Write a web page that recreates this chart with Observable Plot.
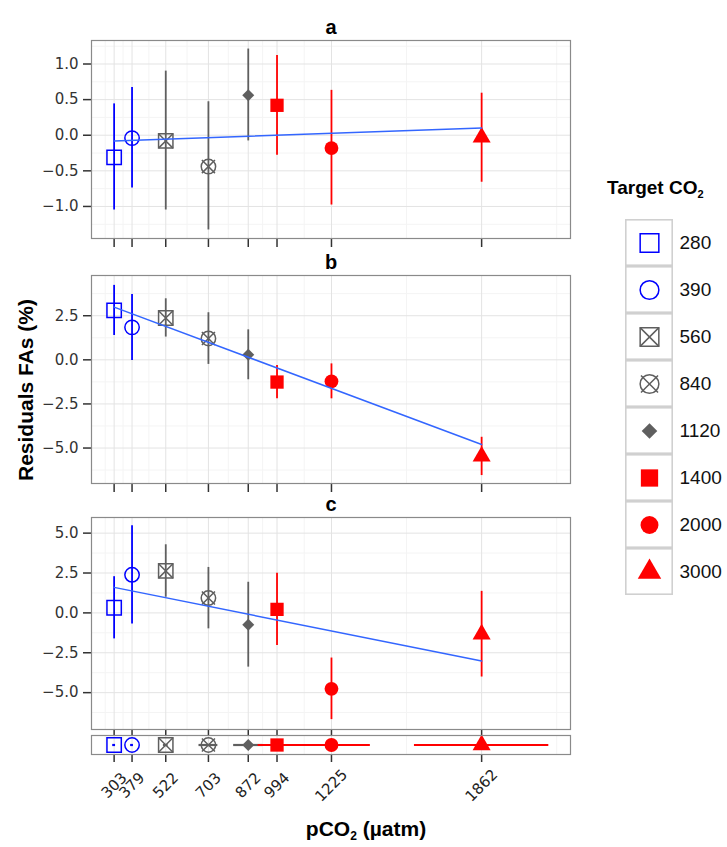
<!DOCTYPE html>
<html><head><meta charset="utf-8">
<script src="https://cdn.jsdelivr.net/npm/d3@7"></script>
<script src="https://cdn.jsdelivr.net/npm/@observablehq/plot@0.6"></script>
<style>
body{margin:0;background:#fff;font-family:"Liberation Sans",Arial,Helvetica,sans-serif;}
#chart{position:relative;width:727px;height:847px;overflow:hidden;}
#chart > *{position:absolute;}
.t{font-weight:bold;color:#000;white-space:nowrap;}
</style></head><body><div id="chart"></div>
<script>
// ---- data ----
const targetCO2 = ["280","390","560","840","1120","1400","2000","3000"];
const pCO2      = [303, 379, 522, 703, 872, 994, 1225, 1862];
const pCO2Err   = [6, 6, 10, 40, 62, 80, 165, 285];

const residA = [-0.31, -0.04, -0.08, -0.44, 0.56, 0.42, -0.18, -0.03];
const lowA   = [-1.05, -0.74, -1.05, -1.33, -0.08, -0.28, -0.98, -0.66];
const highA  = [0.44, 0.67, 0.90, 0.47, 1.21, 1.12, 0.63, 0.59];
const fitA   = [-0.08, 0.10];

const residB = [2.80, 1.84, 2.37, 1.21, 0.29, -1.26, -1.22, -5.47];
const lowB   = [1.38, -0.04, 1.29, -0.26, -1.13, -2.21, -2.21, -6.56];
const highB  = [4.22, 3.70, 3.46, 2.67, 1.70, -0.32, -0.23, -4.39];
const fitB   = [2.99, -4.80];

const residC = [0.32, 2.39, 2.63, 0.93, -0.74, 0.22, -4.76, -1.34];
const lowC   = [-1.63, -0.69, 0.98, -1.00, -3.40, -2.04, -6.69, -4.02];
const highC  = [2.27, 5.46, 4.27, 2.85, 1.92, 2.48, -2.83, 1.35];
const fitC   = [1.60, -3.02];

const fitX   = [303, 1862];
const ticksA = [-1, -0.5, 0, 0.5, 1];
const ticksB = [-5, -2.5, 0, 2.5];
const ticksC = [-5, -2.5, 0, 2.5, 5];

// ---- styling ----
const FONT = '"Liberation Sans", Arial, Helvetica, sans-serif';
const TICKFONT = '"DejaVu Sans", "Liberation Sans", sans-serif';
const palette = ["#0000FF","#0000FF","#5f5f5f","#5f5f5f","#5f5f5f","#FF0000","#FF0000","#FF0000"];
const xDomain = [207, 2239];
const fmt = d3.format(".1f");

const rows = targetCO2.map((t, i) => ({
  target: t, pco2: pCO2[i], err: pCO2Err[i],
  a: residA[i], aLo: lowA[i], aHi: highA[i],
  b: residB[i], bLo: lowB[i], bHi: highB[i],
  c: residC[i], cLo: lowC[i], cHi: highC[i]
}));

function minorBreaks(b) {
  const ext = [b[0] - (b[1] - b[0]), ...b, b[b.length - 1] + (b[b.length - 1] - b[b.length - 2])];
  return ext.slice(1).map((v, i) => (v + ext[i]) / 2);
}
const xMinor = minorBreaks(pCO2).filter(v => v > xDomain[0] && v < xDomain[1]);

// symbol layers (shape per target)
const layers = [
  {keys: ["280","560"], symbol: "square", r: 8.1, filled: false},
  {keys: ["390","840"], symbol: "circle", r: 7.2, filled: false},
  {keys: ["560"], symbol: "times", r: 6.6, filled: false},
  {keys: ["840"], symbol: "times", r: 6.0, filled: false},
  {keys: ["1120"], symbol: "diamond2", r: 5.4, filled: true},
  {keys: ["1400"], symbol: "square", r: 7.5, filled: true},
  {keys: ["2000"], symbol: "circle", r: 6.9, filled: true},
  {keys: ["3000"], symbol: "triangle", r: 6.7, filled: true}
];
function symbolMarks(data, xOpt, yOpt, scale = 1) {
  return layers.map(L => Plot.dot(data.filter(d => L.keys.includes(d.target)), {
    x: xOpt, y: yOpt, symbol: L.symbol, r: L.r * scale,
    fill: L.filled ? "target" : "none",
    stroke: L.filled ? "none" : "target",
    strokeWidth: 1.5
  }));
}

const chart = document.getElementById("chart");
function place(el, left, top) { el.style.left = left + "px"; el.style.top = top + "px"; chart.appendChild(el); }

function panel(key, ticks, domain, fit, title, top, height, mTop, mBottom, xTick) {
  const yMinor = minorBreaks(ticks).filter(v => v > domain[0] && v < domain[1]);
  const p = Plot.plot({
    width: 580, height, marginLeft: 91, marginRight: 10, marginTop: mTop, marginBottom: mBottom,
    style: {fontFamily: FONT, fontSize: "15px", background: "transparent", overflow: "visible"},
    x: {domain: xDomain, axis: null},
    y: {domain, axis: null},
    color: {domain: targetCO2, range: palette},
    marks: [
      Plot.gridX(xMinor, {stroke: "#f4f4f4", strokeOpacity: 1}),
      Plot.gridY(yMinor, {stroke: "#f4f4f4", strokeOpacity: 1}),
      Plot.gridX(pCO2, {stroke: "#e3e3e3", strokeOpacity: 1}),
      Plot.gridY(ticks, {stroke: "#e3e3e3", strokeOpacity: 1}),
      Plot.axisY(ticks, {tickSize: 8, tickPadding: 5, tickFormat: fmt, label: null, color: "#333", strokeWidth: 1.5, fontFamily: TICKFONT, fontSize: 15}),
      Plot.axisX(pCO2, {tickSize: xTick, tickFormat: () => "", label: null, color: "#333", strokeWidth: 1.5}),
      Plot.ruleX(rows, {x: "pco2", y1: key + "Lo", y2: key + "Hi", stroke: "target", strokeWidth: 1.8}),
      ...symbolMarks(rows, "pco2", key),
      Plot.line(fitX.map((x, i) => ({x, y: fit[i]})), {x: "x", y: "y", stroke: "#3366FF", strokeWidth: 1.5}),
      Plot.frame({stroke: "#8a8a8a", strokeWidth: 1.2}),
      Plot.text([title], {frameAnchor: "top", lineAnchor: "bottom", dy: -7, fontWeight: "bold", fontSize: 20, fill: "#000"})
    ]
  });
  place(p, 0, top);
}

panel("a", ticksA, [-1.45, 1.33], fitA, "a", 0, 250, 40, 12, 9);
panel("b", ticksB, [-7.01, 4.78], fitB, "b", 250, 245, 25, 12, 9);
panel("c", ticksC, [-7.31, 5.98], fitC, "c", 495, 240, 22, 6, 6);

// strip with horizontal pCO2 error bars + x axis
const strip = Plot.plot({
  width: 580, height: 113, marginLeft: 91, marginRight: 10, marginTop: 1, marginBottom: 93,
  style: {fontFamily: FONT, fontSize: "15px", background: "transparent", overflow: "visible"},
  x: {domain: xDomain, axis: null},
  y: {domain: [0, 1], axis: null},
  color: {domain: targetCO2, range: palette},
  marks: [
    Plot.gridX(xMinor, {stroke: "#f4f4f4", strokeOpacity: 1}),
    Plot.gridX(pCO2, {stroke: "#e3e3e3", strokeOpacity: 1}),
    Plot.axisX(pCO2, {tickSize: 8, tickFormat: () => "", label: null, color: "#333", strokeWidth: 1.5}),
    Plot.text(pCO2, {x: d => d, text: d => String(d), frameAnchor: "bottom", dy: 31, rotate: -45, textAnchor: "middle", lineAnchor: "middle", fontSize: 15, fontFamily: TICKFONT, fill: "#222"}),
    Plot.ruleY(rows, {y: () => 0.5, x1: d => d.pco2 - d.err, x2: d => d.pco2 + d.err, stroke: "target", strokeWidth: 2.2}),
    ...symbolMarks(rows, "pco2", () => 0.5),
    Plot.frame({stroke: "#8a8a8a", strokeWidth: 1.2})
  ]
});
place(strip, 0, 734);

// legend
const legend = Plot.plot({
  width: 147, height: 430, margin: 0,
  style: {fontFamily: FONT, background: "transparent", overflow: "visible"},
  x: {domain: [0, 147], range: [0, 147], axis: null},
  y: {type: "band", domain: targetCO2, range: [47, 47 + 8 * 47.4], padding: 0, axis: null},
  color: {domain: targetCO2, range: palette},
  marks: [
    Plot.barX(targetCO2, {x1: () => 45, x2: () => 93, y: d => d, fill: "#fff", stroke: "#d0d0d0", strokeWidth: 1.6, inset: 0.8}),
    ...symbolMarks(rows, () => 69, "target", 1.3),
    Plot.text(targetCO2, {x: () => 99, y: d => d, text: d => d, textAnchor: "start", fontSize: 19, fill: "#111"})
  ]
});
place(legend, 580, 170);

// titles
const lt = document.createElement("div");
lt.className = "t"; lt.style.fontSize = "19px";
lt.innerHTML = "Target CO<sub style='font-size:11px;vertical-align:-4px'>2</sub>";
place(lt, 607, 177);

const xt = document.createElement("div");
xt.className = "t"; xt.style.fontSize = "21px";
xt.style.width = "300px"; xt.style.textAlign = "center";
xt.innerHTML = "pCO<sub style='font-size:12px;vertical-align:-4px'>2</sub> (µatm)";
place(xt, 216, 817);

const yt = document.createElement("div");
yt.className = "t"; yt.style.fontSize = "21px";
yt.style.width = "300px"; yt.style.textAlign = "center";
yt.style.transform = "rotate(-90deg)";
yt.textContent = "Residuals FAs (%)";
place(yt, 26 - 150, 390 - 12);
</script></body></html>
